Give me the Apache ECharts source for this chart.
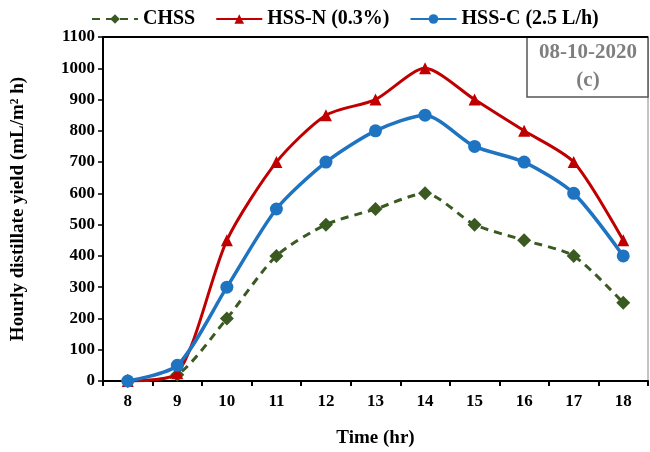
<!DOCTYPE html>
<html lang="en">
<head>
    <meta charset="UTF-8">
    <title>Hourly distillate yield</title>
    <script src="https://cdn.jsdelivr.net/npm/echarts@6/dist/echarts.min.js"></script>
</head>
<body style="margin:0;">
<div id="pic1" style="width:650px;height:452px;"></div>

<script>
    // time of day (hr)
    var hours = ['8', '9', '10', '11', '12', '13', '14', '15', '16', '17', '18'];
    // hourly yield, mL/m2 h
    var chss = [0, 20, 200, 400, 500, 550, 600, 500, 450, 400, 250];
    var hssN = [0, 25, 450, 700, 850, 900, 1000, 900, 800, 700, 450];
    var hssC = [0, 50, 300, 550, 700, 800, 850, 750, 700, 600, 400];

    var serif = '"Liberation Serif", "DejaVu Serif", serif';

    var myCharts1 = echarts.init(document.getElementById('pic1'));
    var option1 = {
        backgroundColor: 'white',
        legend: {
            top: 4,
            left: 86,
            itemGap: 20,
            itemWidth: 46,
            itemHeight: 12,
            textStyle: {fontFamily: serif, fontWeight: 'bold', fontSize: 20, color: '#000'},
            data: ['CHSS', 'HSS-N (0.3%)', 'HSS-C (2.5 L/h)']
        },
        grid: {
            left: 103, right: 2, top: 37, bottom: 71,
            outerBoundsMode: 'none',
            containLabel: false,
            show: true, borderColor: '#888', borderWidth: 1
        },
        xAxis: {
            type: 'category',
            data: hours,
            boundaryGap: true,
            name: 'Time (hr)',
            nameLocation: 'middle',
            nameGap: 48,
            nameTextStyle: {fontFamily: serif, fontWeight: 'bold', fontSize: 19, color: '#000'},
            axisLine: {lineStyle: {color: '#000', width: 2}},
            axisTick: {show: true, interval: 0, length: 5, lineStyle: {color: '#000', width: 2}},
            axisLabel: {fontFamily: serif, fontWeight: 'bold', fontSize: 17, color: '#000', margin: 12, interval: 0}
        },
        yAxis: {
            type: 'value',
            min: 0,
            max: 1100,
            interval: 100,
            name: 'Hourly distillate yield (mL/m² h)',
            nameLocation: 'middle',
            nameGap: 75,
            nameTextStyle: {fontFamily: serif, fontWeight: 'bold', fontSize: 19, color: '#000'},
            axisLine: {show: true, lineStyle: {color: '#000', width: 2}},
            axisTick: {show: true, length: 5, lineStyle: {color: '#000', width: 1.5}},
            axisLabel: {
                fontFamily: serif, fontWeight: 'bold', fontSize: 17, color: '#000', margin: 8,
                formatter: function (v) { return String(v); }
            },
            splitLine: {show: false}
        },
        graphic: [
            {
                type: 'line',
                shape: {x1: 103, y1: 37, x2: 648, y2: 37},
                style: {stroke: '#000', lineWidth: 2},
                z: 5
            },
            {
                type: 'rect',
                shape: {x: 527, y: 37, width: 121, height: 60},
                style: {fill: '#fff', stroke: '#555', lineWidth: 1.5},
                z: 4
            },
            {
                type: 'text',
                x: 588, y: 67,
                style: {
                    text: '08-10-2020\n(c)',
                    align: 'center', verticalAlign: 'middle',
                    font: 'bold 21px ' + serif,
                    fill: '#7f7f7f',
                    lineHeight: 28
                },
                z: 6
            }
        ],
        series: [
            {
                name: 'CHSS',
                type: 'line',
                data: chss,
                smooth: 0.25,
                symbol: 'diamond',
                symbolSize: 14,
                color: '#3a5a22',
                lineStyle: {width: 3, type: [8, 6]},
                z: 2
            },
            {
                name: 'HSS-N (0.3%)',
                type: 'line',
                data: hssN,
                smooth: 0.25,
                symbol: 'triangle',
                symbolSize: 12,
                color: '#c00000',
                lineStyle: {width: 3},
                z: 3
            },
            {
                name: 'HSS-C (2.5 L/h)',
                type: 'line',
                data: hssC,
                smooth: 0.25,
                symbol: 'circle',
                symbolSize: 13,
                color: '#1f74c2',
                lineStyle: {width: 3.5},
                z: 4
            }
        ]
    };
    myCharts1.setOption(option1, true);
</script>
</body>
</html>
